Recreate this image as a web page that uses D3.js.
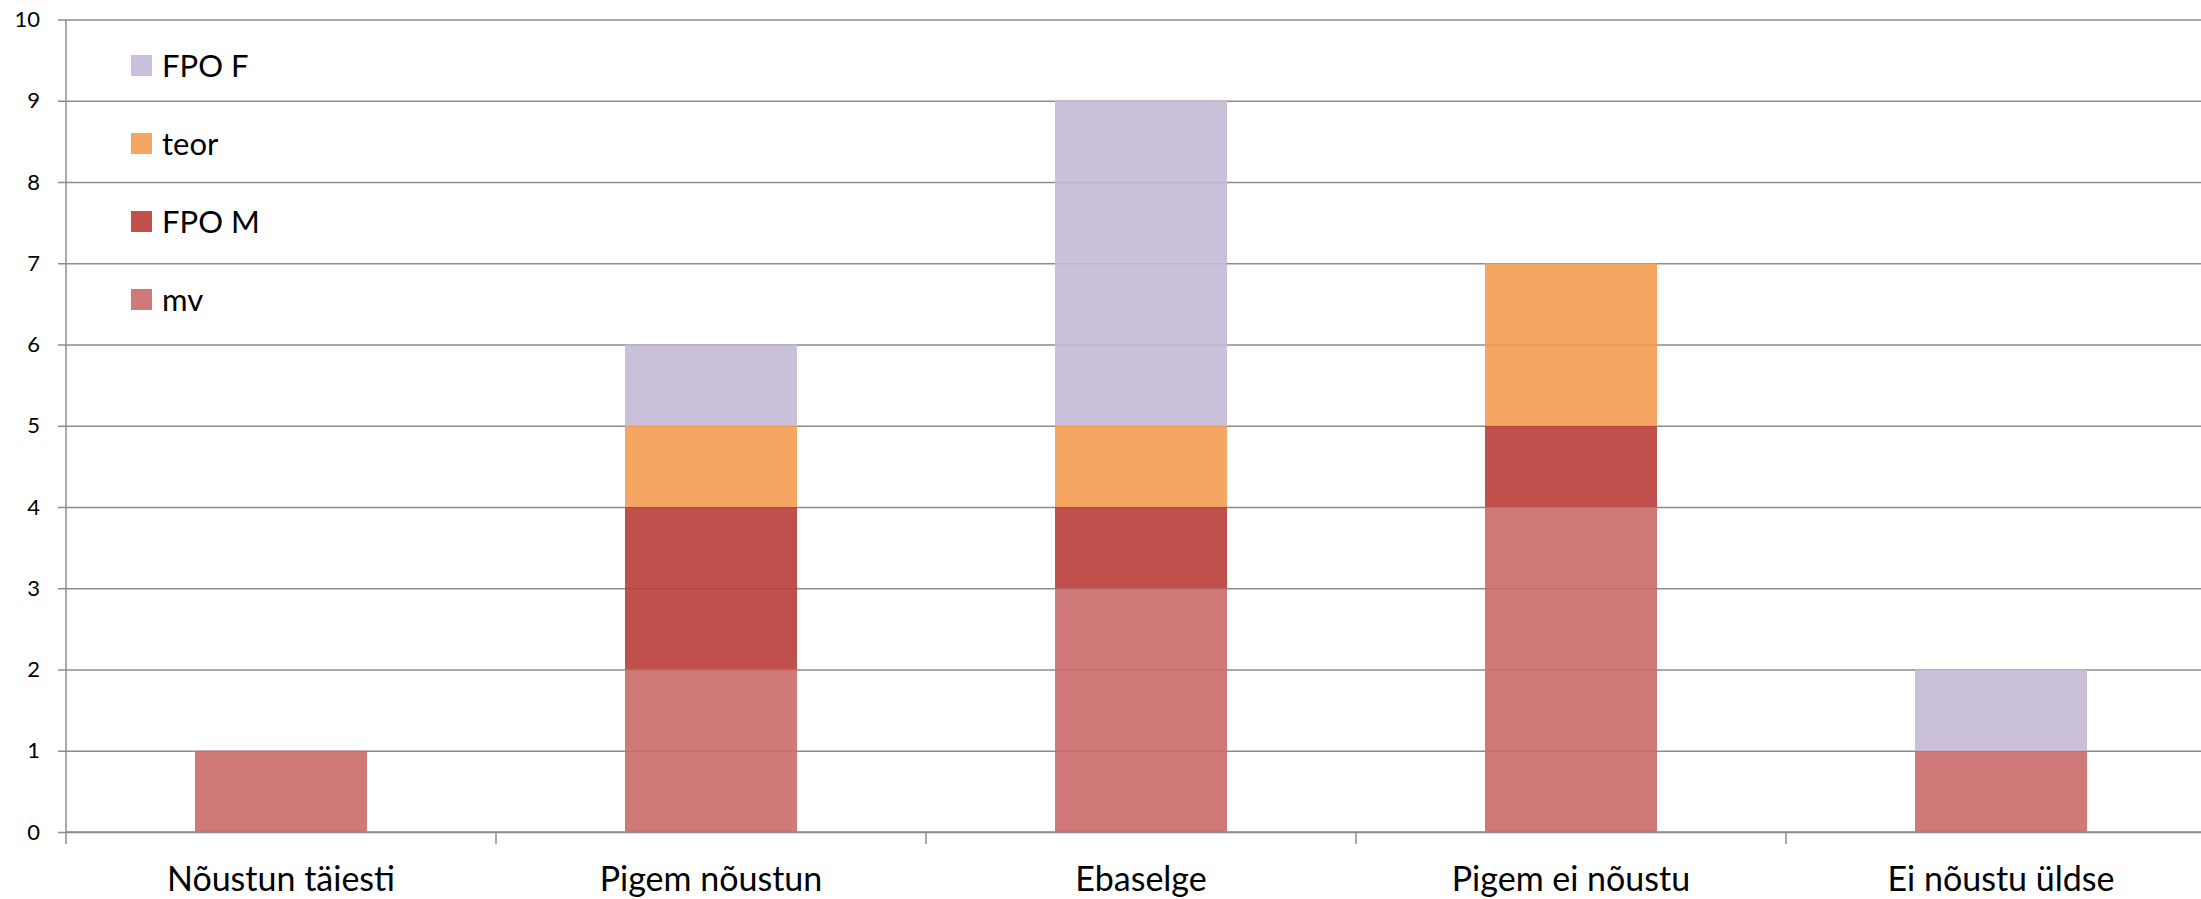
<!DOCTYPE html>
<html>
<head>
<meta charset="utf-8">
<script src="https://cdn.jsdelivr.net/npm/d3@7"></script>
<style>
  body { margin: 0; background: #fff; }
  text { font-family: Lato, "Open Sans", sans-serif; fill: #000; }
</style>
</head>
<body>
<svg id="chart" width="2201" height="899"></svg>
<script>
const categories = ['Nõustun täiesti', 'Pigem nõustun', 'Ebaselge', 'Pigem ei nõustu', 'Ei nõustu üldse'];
const seriesNames = ['mv', 'FPO M', 'teor', 'FPO F'];
const mv = [1, 2, 3, 4, 1];
const fpoM = [0, 2, 1, 1, 0];
const teor = [0, 1, 1, 2, 0];
const fpoF = [0, 1, 4, 0, 1];
const yTicks = [0, 1, 2, 3, 4, 5, 6, 7, 8, 9, 10];
const colors = ['#ca6b69', '#b93d39', '#f49c52', '#c5b9d6'];

const rows = categories.map((c, i) => ({
  cat: c, 'mv': mv[i], 'FPO M': fpoM[i], 'teor': teor[i], 'FPO F': fpoF[i]
}));

const svg = d3.select('#chart');
const plotLeft = 66, plotRight = 2216, plotTop = 19.5, plotBottom = 832;
const gridColor = '#8c8c8c';

const x = d3.scaleBand()
  .domain(categories)
  .range([plotLeft, plotRight])
  .paddingInner(0.6)
  .paddingOuter(0.3);

const y = d3.scaleLinear().domain([0, 10]).range([plotBottom, plotTop]);

const color = d3.scaleOrdinal().domain(seriesNames).range(colors);

// gridlines
const grid = svg.append('g')
  .attr('transform', `translate(${plotLeft},0)`)
  .call(d3.axisLeft(y).tickValues(yTicks).tickSize(-(plotRight - plotLeft)).tickFormat(''));
grid.select('.domain').remove();
grid.selectAll('line').attr('stroke', gridColor).attr('stroke-width', 1.5);

// stacked bars
const stacked = d3.stack().keys(seriesNames)(rows);

svg.append('g')
  .selectAll('g')
  .data(stacked)
  .join('g')
  .attr('fill', d => color(d.key))
  .attr('fill-opacity', 0.9)
  .selectAll('rect')
  .data(d => d.filter(s => s[1] > s[0]))
  .join('rect')
  .attr('x', d => x(d.data.cat))
  .attr('y', d => y(d[1]))
  .attr('width', x.bandwidth())
  .attr('height', d => y(d[0]) - y(d[1]));

// y axis
const yAxis = svg.append('g')
  .attr('transform', `translate(${plotLeft},0)`)
  .call(d3.axisLeft(y).tickValues(yTicks).tickSize(8).tickPadding(18).tickFormat(d3.format('d')));
yAxis.select('.domain').remove();
yAxis.selectAll('line').attr('stroke', gridColor).attr('stroke-width', 1.5);
yAxis.selectAll('text')
  .style('font-size', '22px')
  .attr('fill', '#000');

// y axis line, running down past zero like the category ticks
svg.append('line')
  .attr('x1', plotLeft).attr('x2', plotLeft)
  .attr('y1', y(10)).attr('y2', y(0) + 12)
  .attr('stroke', gridColor)
  .attr('stroke-width', 1.5);

// x axis line
svg.append('line')
  .attr('x1', plotLeft).attr('x2', plotRight)
  .attr('y1', y(0)).attr('y2', y(0))
  .attr('stroke', gridColor)
  .attr('stroke-width', 1.5);

// category boundary ticks
const bounds = d3.range(1, categories.length).map(i => plotLeft + i * x.step());
svg.append('g')
  .selectAll('line')
  .data(bounds)
  .join('line')
  .attr('x1', d => d).attr('x2', d => d)
  .attr('y1', y(0)).attr('y2', y(0) + 12)
  .attr('stroke', gridColor)
  .attr('stroke-width', 1.5);

// category labels
svg.append('g')
  .selectAll('text')
  .data(categories)
  .join('text')
  .attr('x', d => x(d) + x.bandwidth() / 2)
  .attr('y', 891)
  .attr('text-anchor', 'middle')
  .style('font-size', '34px')
  .text(d => d);

// legend, top series first
const legend = svg.append('g')
  .selectAll('g')
  .data(seriesNames.slice().reverse())
  .join('g')
  .attr('transform', (d, i) => `translate(131,${55 + i * 78})`);

legend.append('rect')
  .attr('width', 21)
  .attr('height', 21)
  .attr('fill', d => color(d))
  .attr('fill-opacity', 0.9);

legend.append('text')
  .attr('x', 31)
  .attr('y', 10.5)
  .attr('dy', '0.36em')
  .style('font-size', '31px')
  .text(d => d);
</script>
</body>
</html>
